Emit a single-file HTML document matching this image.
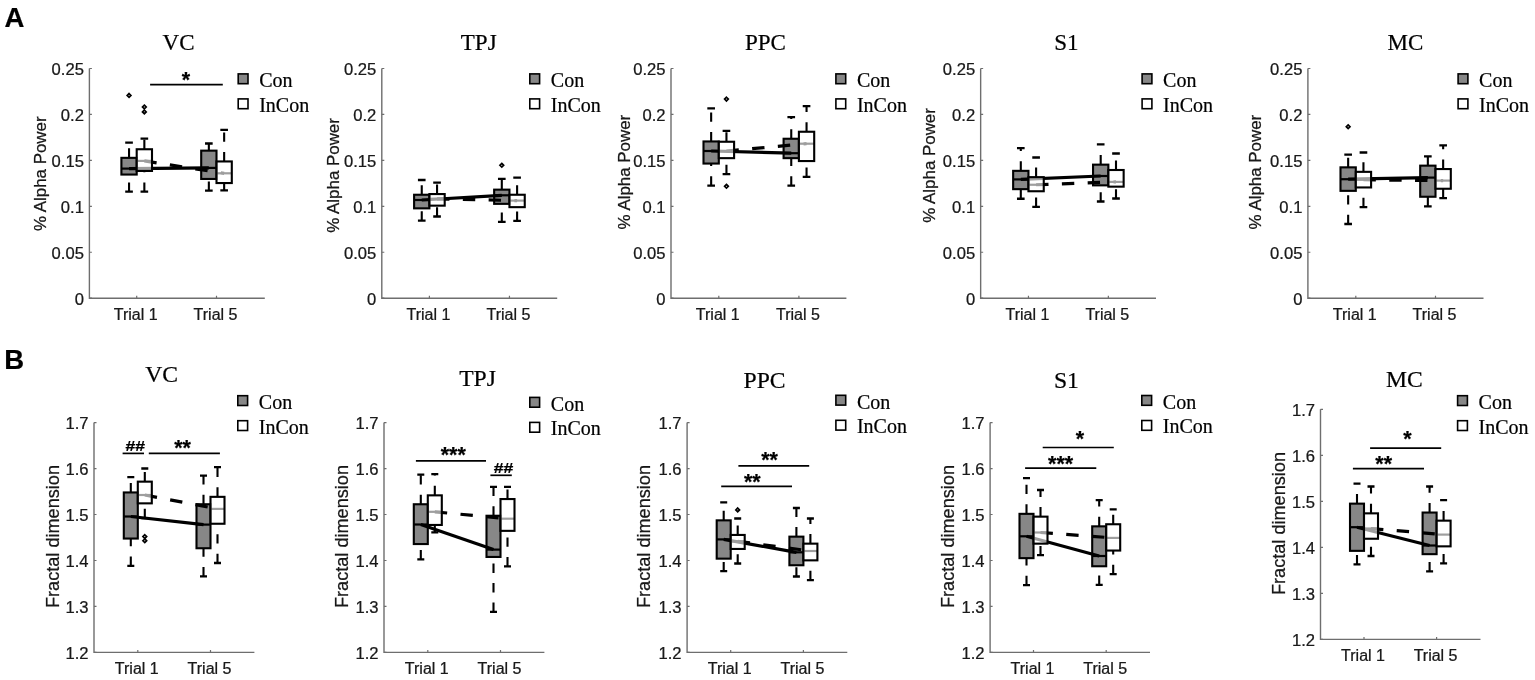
<!DOCTYPE html>
<html><head><meta charset="utf-8"><title>Figure</title>
<style>
html,body{margin:0;padding:0;background:#fff;}
svg{display:block;}
text{fill:#000;stroke:#000;stroke-width:0.22px;}
.tl{font-family:"Liberation Sans",Arial,sans-serif;font-size:16px;fill:#1a1a1a;}
.tk{font-family:"Liberation Sans",Arial,sans-serif;font-size:16.6px;fill:#1a1a1a;}
.yl{font-family:"Liberation Sans",Arial,sans-serif;fill:#1a1a1a;}
.ti{font-family:"Liberation Serif","Times New Roman",serif;font-size:23px;}
.lg{font-family:"Liberation Serif","Times New Roman",serif;font-size:20px;}
.st{font-family:"Liberation Sans",Arial,sans-serif;font-weight:bold;font-size:21.5px;}
.hs{font-family:"Liberation Sans",Arial,sans-serif;font-weight:bold;font-size:15.2px;}
.pl{font-family:"Liberation Sans",Arial,sans-serif;font-weight:bold;font-size:27.5px;}
</style></head>
<body>
<svg width="1535" height="680" viewBox="0 0 1535 680">
<rect width="1535" height="680" fill="#fff"/>
<text x="4.5" y="27.1" class="pl">A</text>
<text x="4.3" y="368.9" class="pl">B</text>
<path d="M89.4 68.5V298.2H264.8" fill="none" stroke="#6e6e6e" stroke-width="1.4"/>
<text x="83.9" y="304.8" class="tk" text-anchor="end">0</text>
<text x="83.9" y="258.86" class="tk" text-anchor="end">0.05</text>
<text x="83.9" y="212.92" class="tk" text-anchor="end">0.1</text>
<text x="83.9" y="166.98" class="tk" text-anchor="end">0.15</text>
<text x="83.9" y="121.04" class="tk" text-anchor="end">0.2</text>
<text x="83.9" y="75.1" class="tk" text-anchor="end">0.25</text>
<path d="M89.4 298.2h2.5 M89.4 252.26h2.5 M89.4 206.32h2.5 M89.4 160.38h2.5 M89.4 114.44h2.5 M89.4 68.5h2.5 M136.7 298.2v-2.5 M216.5 298.2v-2.5" stroke="#6e6e6e" stroke-width="1.2" fill="none"/>
<text x="135.7" y="320" class="tl" text-anchor="middle">Trial 1</text>
<text x="215.5" y="320" class="tl" text-anchor="middle">Trial 5</text>
<text transform="translate(45.6 173.7) rotate(-90)" text-anchor="middle" style="font-size:17px" textLength="114.6" lengthAdjust="spacingAndGlyphs" class="yl">% Alpha Power</text>
<text x="178.5" y="50" class="ti" style="font-size:23px" text-anchor="middle">VC</text>
<rect x="238.2" y="73.9" width="9.8" height="9.8" fill="#878787" stroke="#000" stroke-width="1.6"/>
<rect x="238.2" y="98.9" width="9.8" height="9.8" fill="#fff" stroke="#000" stroke-width="1.6"/>
<text x="259.2" y="87.4" class="lg">Con</text>
<text x="259.2" y="111.8" class="lg">InCon</text>
<path d="M129.05 157.6V142.6M129.05 191.7V174.8" stroke="#000" stroke-width="2.1" stroke-dasharray="9.3 10.2" fill="none"/>
<path d="M125.22 142.6H132.87M125.22 191.7H132.87" stroke="#000" stroke-width="2.3" fill="none"/>
<path d="M129.05 93.55L130.9 95.4L129.05 97.25L127.2 95.4Z" fill="none" stroke="#000" stroke-width="1.7"/>
<path d="M144.35 149V138.7M144.35 191.7V171.2" stroke="#000" stroke-width="2.1" stroke-dasharray="9.3 10.2" fill="none"/>
<path d="M140.53 138.7H148.17M140.53 191.7H148.17" stroke="#000" stroke-width="2.3" fill="none"/>
<path d="M144.35 105.15L146.2 107L144.35 108.85L142.5 107Z" fill="none" stroke="#000" stroke-width="1.7"/>
<path d="M144.35 110.05L146.2 111.9L144.35 113.75L142.5 111.9Z" fill="none" stroke="#000" stroke-width="1.7"/>
<path d="M208.85 150.4V143.5M208.85 190.7V179.2" stroke="#000" stroke-width="2.1" stroke-dasharray="9.3 10.2" fill="none"/>
<path d="M205.03 143.5H212.67M205.03 190.7H212.67" stroke="#000" stroke-width="2.3" fill="none"/>
<path d="M224.15 161.2V129.8M224.15 190.3V183.3" stroke="#000" stroke-width="2.1" stroke-dasharray="9.3 10.2" fill="none"/>
<path d="M220.33 129.8H227.97M220.33 190.3H227.97" stroke="#000" stroke-width="2.3" fill="none"/>
<rect x="121.4" y="157.85" width="15.3" height="16.7" fill="#878787" stroke="#000" stroke-width="2.1"/>
<path d="M121.4 168.6H136.7" stroke="#000" stroke-width="2.2"/>
<rect x="201.2" y="150.65" width="15.3" height="28.3" fill="#878787" stroke="#000" stroke-width="2.1"/>
<path d="M201.2 167.9H216.5" stroke="#000" stroke-width="2.2"/>
<path d="M136.7 160.9H152" stroke="#000" stroke-width="2.2"/>
<path d="M216.5 173.3H231.8" stroke="#000" stroke-width="2.2"/>
<path d="M129.05 168.6L208.85 167.9" stroke="#000" stroke-width="3.2" fill="none"/>
<path d="M144.35 160.9L224.15 173.3" stroke="#000" stroke-width="3.2" stroke-dasharray="12.4 13.4" fill="none"/>
<rect x="136.7" y="149.25" width="15.3" height="21.7" fill="#fff" fill-opacity="0.62" stroke="#000" stroke-width="2.1"/>
<rect x="216.5" y="161.45" width="15.3" height="21.6" fill="#fff" fill-opacity="0.62" stroke="#000" stroke-width="2.1"/>
<path d="M150.1 84.6H222.8" stroke="#000" stroke-width="1.7"/>
<text x="186" y="86.7" class="st" text-anchor="middle">*</text>
<path d="M381.8 68.5V298.2H557.2" fill="none" stroke="#6e6e6e" stroke-width="1.4"/>
<text x="376.3" y="304.8" class="tk" text-anchor="end">0</text>
<text x="376.3" y="258.86" class="tk" text-anchor="end">0.05</text>
<text x="376.3" y="212.92" class="tk" text-anchor="end">0.1</text>
<text x="376.3" y="166.98" class="tk" text-anchor="end">0.15</text>
<text x="376.3" y="121.04" class="tk" text-anchor="end">0.2</text>
<text x="376.3" y="75.1" class="tk" text-anchor="end">0.25</text>
<path d="M381.8 298.2h2.5 M381.8 252.26h2.5 M381.8 206.32h2.5 M381.8 160.38h2.5 M381.8 114.44h2.5 M381.8 68.5h2.5 M429.4 298.2v-2.5 M509.45 298.2v-2.5" stroke="#6e6e6e" stroke-width="1.2" fill="none"/>
<text x="428.4" y="320" class="tl" text-anchor="middle">Trial 1</text>
<text x="508.45" y="320" class="tl" text-anchor="middle">Trial 5</text>
<text transform="translate(338.6 175.4) rotate(-90)" text-anchor="middle" style="font-size:17px" textLength="114.6" lengthAdjust="spacingAndGlyphs" class="yl">% Alpha Power</text>
<text x="478.7" y="50.3" class="ti" style="font-size:23px" text-anchor="middle">TPJ</text>
<rect x="529.8" y="73.9" width="9.8" height="9.8" fill="#878787" stroke="#000" stroke-width="1.6"/>
<rect x="529.8" y="98.9" width="9.8" height="9.8" fill="#fff" stroke="#000" stroke-width="1.6"/>
<text x="550.8" y="87.4" class="lg">Con</text>
<text x="550.8" y="111.8" class="lg">InCon</text>
<path d="M421.75 194.5V180M421.75 220.6V208.6" stroke="#000" stroke-width="2.1" stroke-dasharray="9.3 10.2" fill="none"/>
<path d="M417.93 180H425.57M417.93 220.6H425.57" stroke="#000" stroke-width="2.3" fill="none"/>
<path d="M437.05 193.8V182.7M437.05 216.5V205.9" stroke="#000" stroke-width="2.1" stroke-dasharray="9.3 10.2" fill="none"/>
<path d="M433.22 182.7H440.87M433.22 216.5H440.87" stroke="#000" stroke-width="2.3" fill="none"/>
<path d="M501.8 189.4V178.8M501.8 221.8V204.1" stroke="#000" stroke-width="2.1" stroke-dasharray="9.3 10.2" fill="none"/>
<path d="M497.98 178.8H505.62M497.98 221.8H505.62" stroke="#000" stroke-width="2.3" fill="none"/>
<path d="M501.8 163.45L503.65 165.3L501.8 167.15L499.95 165.3Z" fill="none" stroke="#000" stroke-width="1.7"/>
<path d="M517.1 194.5V177.6M517.1 220.8V207.4" stroke="#000" stroke-width="2.1" stroke-dasharray="9.3 10.2" fill="none"/>
<path d="M513.27 177.6H520.93M513.27 220.8H520.93" stroke="#000" stroke-width="2.3" fill="none"/>
<rect x="414.1" y="194.75" width="15.3" height="13.6" fill="#878787" stroke="#000" stroke-width="2.1"/>
<path d="M414.1 200H429.4" stroke="#000" stroke-width="2.2"/>
<rect x="494.15" y="189.65" width="15.3" height="14.2" fill="#878787" stroke="#000" stroke-width="2.1"/>
<path d="M494.15 195.3H509.45" stroke="#000" stroke-width="2.2"/>
<path d="M429.4 198.8H444.7" stroke="#000" stroke-width="2.2"/>
<path d="M509.45 200.6H524.75" stroke="#000" stroke-width="2.2"/>
<path d="M421.75 200L501.8 195.3" stroke="#000" stroke-width="3.2" fill="none"/>
<path d="M437.05 198.8L517.1 200.6" stroke="#000" stroke-width="3.2" stroke-dasharray="12.4 13.4" fill="none"/>
<rect x="429.4" y="194.05" width="15.3" height="11.6" fill="#fff" fill-opacity="0.62" stroke="#000" stroke-width="2.1"/>
<rect x="509.45" y="194.75" width="15.3" height="12.4" fill="#fff" fill-opacity="0.62" stroke="#000" stroke-width="2.1"/>
<path d="M671 68.5V298.2H846.4" fill="none" stroke="#6e6e6e" stroke-width="1.4"/>
<text x="665.5" y="304.8" class="tk" text-anchor="end">0</text>
<text x="665.5" y="258.86" class="tk" text-anchor="end">0.05</text>
<text x="665.5" y="212.92" class="tk" text-anchor="end">0.1</text>
<text x="665.5" y="166.98" class="tk" text-anchor="end">0.15</text>
<text x="665.5" y="121.04" class="tk" text-anchor="end">0.2</text>
<text x="665.5" y="75.1" class="tk" text-anchor="end">0.25</text>
<path d="M671 298.2h2.5 M671 252.26h2.5 M671 206.32h2.5 M671 160.38h2.5 M671 114.44h2.5 M671 68.5h2.5 M718.8 298.2v-2.5 M798.9 298.2v-2.5" stroke="#6e6e6e" stroke-width="1.2" fill="none"/>
<text x="717.8" y="320" class="tl" text-anchor="middle">Trial 1</text>
<text x="797.9" y="320" class="tl" text-anchor="middle">Trial 5</text>
<text transform="translate(629.8 172.1) rotate(-90)" text-anchor="middle" style="font-size:17px" textLength="114.6" lengthAdjust="spacingAndGlyphs" class="yl">% Alpha Power</text>
<text x="765.5" y="50.3" class="ti" style="font-size:23px" text-anchor="middle">PPC</text>
<rect x="835.9" y="73.9" width="9.8" height="9.8" fill="#878787" stroke="#000" stroke-width="1.6"/>
<rect x="835.9" y="98.9" width="9.8" height="9.8" fill="#fff" stroke="#000" stroke-width="1.6"/>
<text x="856.9" y="87.4" class="lg">Con</text>
<text x="856.9" y="111.8" class="lg">InCon</text>
<path d="M711.15 141.2V108.4M711.15 185.6V163.8" stroke="#000" stroke-width="2.1" stroke-dasharray="9.3 10.2" fill="none"/>
<path d="M707.32 108.4H714.98M707.32 185.6H714.98" stroke="#000" stroke-width="2.3" fill="none"/>
<path d="M726.45 141.5V130.9M726.45 174.1V158.4" stroke="#000" stroke-width="2.1" stroke-dasharray="9.3 10.2" fill="none"/>
<path d="M722.62 130.9H730.27M722.62 174.1H730.27" stroke="#000" stroke-width="2.3" fill="none"/>
<path d="M726.45 97.25L728.3 99.1L726.45 100.95L724.6 99.1Z" fill="none" stroke="#000" stroke-width="1.7"/>
<path d="M726.45 184.45L728.3 186.3L726.45 188.15L724.6 186.3Z" fill="none" stroke="#000" stroke-width="1.7"/>
<path d="M791.25 138.5V117.2M791.25 185.6V158.4" stroke="#000" stroke-width="2.1" stroke-dasharray="9.3 10.2" fill="none"/>
<path d="M787.42 117.2H795.08M787.42 185.6H795.08" stroke="#000" stroke-width="2.3" fill="none"/>
<path d="M806.55 131.5V106.2M806.55 176.8V161.3" stroke="#000" stroke-width="2.1" stroke-dasharray="9.3 10.2" fill="none"/>
<path d="M802.72 106.2H810.38M802.72 176.8H810.38" stroke="#000" stroke-width="2.3" fill="none"/>
<rect x="703.5" y="141.45" width="15.3" height="22.1" fill="#878787" stroke="#000" stroke-width="2.1"/>
<path d="M703.5 151H718.8" stroke="#000" stroke-width="2.2"/>
<rect x="783.6" y="138.75" width="15.3" height="19.4" fill="#878787" stroke="#000" stroke-width="2.1"/>
<path d="M783.6 153.2H798.9" stroke="#000" stroke-width="2.2"/>
<path d="M718.8 151H734.1" stroke="#000" stroke-width="2.2"/>
<path d="M798.9 143.7H814.2" stroke="#000" stroke-width="2.2"/>
<path d="M711.15 151L791.25 153.2" stroke="#000" stroke-width="3.2" fill="none"/>
<path d="M726.45 151L806.55 143.7" stroke="#000" stroke-width="3.2" stroke-dasharray="12.4 13.4" fill="none"/>
<rect x="718.8" y="141.75" width="15.3" height="16.4" fill="#fff" fill-opacity="0.62" stroke="#000" stroke-width="2.1"/>
<rect x="798.9" y="131.75" width="15.3" height="29.3" fill="#fff" fill-opacity="0.62" stroke="#000" stroke-width="2.1"/>
<path d="M980.65 68.5V298.2H1156" fill="none" stroke="#6e6e6e" stroke-width="1.4"/>
<text x="975.15" y="304.8" class="tk" text-anchor="end">0</text>
<text x="975.15" y="258.86" class="tk" text-anchor="end">0.05</text>
<text x="975.15" y="212.92" class="tk" text-anchor="end">0.1</text>
<text x="975.15" y="166.98" class="tk" text-anchor="end">0.15</text>
<text x="975.15" y="121.04" class="tk" text-anchor="end">0.2</text>
<text x="975.15" y="75.1" class="tk" text-anchor="end">0.25</text>
<path d="M980.65 298.2h2.5 M980.65 252.26h2.5 M980.65 206.32h2.5 M980.65 160.38h2.5 M980.65 114.44h2.5 M980.65 68.5h2.5 M1028.45 298.2v-2.5 M1108.35 298.2v-2.5" stroke="#6e6e6e" stroke-width="1.2" fill="none"/>
<text x="1027.45" y="320" class="tl" text-anchor="middle">Trial 1</text>
<text x="1107.35" y="320" class="tl" text-anchor="middle">Trial 5</text>
<text transform="translate(935.1 165.4) rotate(-90)" text-anchor="middle" style="font-size:17px" textLength="114.6" lengthAdjust="spacingAndGlyphs" class="yl">% Alpha Power</text>
<text x="1066.3" y="50.3" class="ti" style="font-size:23px" text-anchor="middle">S1</text>
<rect x="1142.1" y="73.9" width="9.8" height="9.8" fill="#878787" stroke="#000" stroke-width="1.6"/>
<rect x="1142.1" y="98.9" width="9.8" height="9.8" fill="#fff" stroke="#000" stroke-width="1.6"/>
<text x="1163.1" y="87.4" class="lg">Con</text>
<text x="1163.1" y="111.8" class="lg">InCon</text>
<path d="M1020.8 170.6V148.1M1020.8 198.75V189.4" stroke="#000" stroke-width="2.1" stroke-dasharray="9.3 10.2" fill="none"/>
<path d="M1016.98 148.1H1024.62M1016.98 198.75H1024.62" stroke="#000" stroke-width="2.3" fill="none"/>
<path d="M1036.1 176.9V157.5M1036.1 206.9V191.5" stroke="#000" stroke-width="2.1" stroke-dasharray="9.3 10.2" fill="none"/>
<path d="M1032.28 157.5H1039.93M1032.28 206.9H1039.93" stroke="#000" stroke-width="2.3" fill="none"/>
<path d="M1100.7 164.4V144.4M1100.7 201.5V185.6" stroke="#000" stroke-width="2.1" stroke-dasharray="9.3 10.2" fill="none"/>
<path d="M1096.87 144.4H1104.52M1096.87 201.5H1104.52" stroke="#000" stroke-width="2.3" fill="none"/>
<path d="M1116 169.75V153.5M1116 198.5V186.9" stroke="#000" stroke-width="2.1" stroke-dasharray="9.3 10.2" fill="none"/>
<path d="M1112.17 153.5H1119.83M1112.17 198.5H1119.83" stroke="#000" stroke-width="2.3" fill="none"/>
<rect x="1013.15" y="170.85" width="15.3" height="18.3" fill="#878787" stroke="#000" stroke-width="2.1"/>
<path d="M1013.15 179.4H1028.45" stroke="#000" stroke-width="2.2"/>
<rect x="1093.05" y="164.65" width="15.3" height="20.7" fill="#878787" stroke="#000" stroke-width="2.1"/>
<path d="M1093.05 176H1108.35" stroke="#000" stroke-width="2.2"/>
<path d="M1028.45 184.75H1043.75" stroke="#000" stroke-width="2.2"/>
<path d="M1108.35 181.9H1123.65" stroke="#000" stroke-width="2.2"/>
<path d="M1020.8 179.4L1100.7 176" stroke="#000" stroke-width="3.2" fill="none"/>
<path d="M1036.1 184.75L1116 181.9" stroke="#000" stroke-width="3.2" stroke-dasharray="12.4 13.4" fill="none"/>
<rect x="1028.45" y="177.15" width="15.3" height="14.1" fill="#fff" fill-opacity="0.62" stroke="#000" stroke-width="2.1"/>
<rect x="1108.35" y="170" width="15.3" height="16.65" fill="#fff" fill-opacity="0.62" stroke="#000" stroke-width="2.1"/>
<path d="M1307.9 68.5V298.2H1483.5" fill="none" stroke="#6e6e6e" stroke-width="1.4"/>
<text x="1302.4" y="304.8" class="tk" text-anchor="end">0</text>
<text x="1302.4" y="258.86" class="tk" text-anchor="end">0.05</text>
<text x="1302.4" y="212.92" class="tk" text-anchor="end">0.1</text>
<text x="1302.4" y="166.98" class="tk" text-anchor="end">0.15</text>
<text x="1302.4" y="121.04" class="tk" text-anchor="end">0.2</text>
<text x="1302.4" y="75.1" class="tk" text-anchor="end">0.25</text>
<path d="M1307.9 298.2h2.5 M1307.9 252.26h2.5 M1307.9 206.32h2.5 M1307.9 160.38h2.5 M1307.9 114.44h2.5 M1307.9 68.5h2.5 M1355.8 298.2v-2.5 M1435.5 298.2v-2.5" stroke="#6e6e6e" stroke-width="1.2" fill="none"/>
<text x="1354.8" y="320" class="tl" text-anchor="middle">Trial 1</text>
<text x="1434.5" y="320" class="tl" text-anchor="middle">Trial 5</text>
<text transform="translate(1260.6 172.1) rotate(-90)" text-anchor="middle" style="font-size:17px" textLength="114.6" lengthAdjust="spacingAndGlyphs" class="yl">% Alpha Power</text>
<text x="1405.4" y="50.3" class="ti" style="font-size:23px" text-anchor="middle">MC</text>
<rect x="1458.1" y="73.9" width="9.8" height="9.8" fill="#878787" stroke="#000" stroke-width="1.6"/>
<rect x="1458.1" y="98.9" width="9.8" height="9.8" fill="#fff" stroke="#000" stroke-width="1.6"/>
<text x="1479.1" y="87.4" class="lg">Con</text>
<text x="1479.1" y="111.8" class="lg">InCon</text>
<path d="M1348.15 167.1V154.7M1348.15 224V191.1" stroke="#000" stroke-width="2.1" stroke-dasharray="9.3 10.2" fill="none"/>
<path d="M1344.32 154.7H1351.97M1344.32 224H1351.97" stroke="#000" stroke-width="2.3" fill="none"/>
<path d="M1348.15 124.95L1350 126.8L1348.15 128.65L1346.3 126.8Z" fill="none" stroke="#000" stroke-width="1.7"/>
<path d="M1363.45 171.6V152.5M1363.45 207.1V187.7" stroke="#000" stroke-width="2.1" stroke-dasharray="9.3 10.2" fill="none"/>
<path d="M1359.62 152.5H1367.28M1359.62 207.1H1367.28" stroke="#000" stroke-width="2.3" fill="none"/>
<path d="M1427.85 165.4V156.4M1427.85 206.3V197" stroke="#000" stroke-width="2.1" stroke-dasharray="9.3 10.2" fill="none"/>
<path d="M1424.02 156.4H1431.67M1424.02 206.3H1431.67" stroke="#000" stroke-width="2.3" fill="none"/>
<path d="M1443.15 168.8V145.4M1443.15 198.2V189" stroke="#000" stroke-width="2.1" stroke-dasharray="9.3 10.2" fill="none"/>
<path d="M1439.33 145.4H1446.98M1439.33 198.2H1446.98" stroke="#000" stroke-width="2.3" fill="none"/>
<rect x="1340.5" y="167.35" width="15.3" height="23.5" fill="#878787" stroke="#000" stroke-width="2.1"/>
<path d="M1340.5 179.2H1355.8" stroke="#000" stroke-width="2.2"/>
<rect x="1420.2" y="165.65" width="15.3" height="31.1" fill="#878787" stroke="#000" stroke-width="2.1"/>
<path d="M1420.2 177.6H1435.5" stroke="#000" stroke-width="2.2"/>
<path d="M1355.8 179.75H1371.1" stroke="#000" stroke-width="2.2"/>
<path d="M1435.5 180.6H1450.8" stroke="#000" stroke-width="2.2"/>
<path d="M1348.15 179.2L1427.85 177.6" stroke="#000" stroke-width="3.2" fill="none"/>
<path d="M1363.45 179.75L1443.15 180.6" stroke="#000" stroke-width="3.2" stroke-dasharray="12.4 13.4" fill="none"/>
<rect x="1355.8" y="171.85" width="15.3" height="15.6" fill="#fff" fill-opacity="0.62" stroke="#000" stroke-width="2.1"/>
<rect x="1435.5" y="169.05" width="15.3" height="19.7" fill="#fff" fill-opacity="0.62" stroke="#000" stroke-width="2.1"/>
<path d="M94 422.6V652.4H254.4" fill="none" stroke="#6e6e6e" stroke-width="1.4"/>
<text x="88.5" y="659" class="tk" text-anchor="end">1.2</text>
<text x="88.5" y="613.04" class="tk" text-anchor="end">1.3</text>
<text x="88.5" y="567.08" class="tk" text-anchor="end">1.4</text>
<text x="88.5" y="521.12" class="tk" text-anchor="end">1.5</text>
<text x="88.5" y="475.16" class="tk" text-anchor="end">1.6</text>
<text x="88.5" y="429.2" class="tk" text-anchor="end">1.7</text>
<path d="M94 652.4h2.5 M94 606.44h2.5 M94 560.48h2.5 M94 514.52h2.5 M94 468.56h2.5 M94 422.6h2.5 M137.8 652.4v-2.5 M210.5 652.4v-2.5" stroke="#6e6e6e" stroke-width="1.2" fill="none"/>
<text x="136.8" y="674.2" class="tl" text-anchor="middle">Trial 1</text>
<text x="209.5" y="674.2" class="tl" text-anchor="middle">Trial 5</text>
<text transform="translate(59.2 536.5) rotate(-90)" text-anchor="middle" style="font-size:18px" textLength="143" lengthAdjust="spacingAndGlyphs" class="yl">Fractal dimension</text>
<text x="161.65" y="382.4" class="ti" style="font-size:23.6px" text-anchor="middle">VC</text>
<rect x="237.8" y="395.7" width="9.8" height="9.8" fill="#878787" stroke="#000" stroke-width="1.6"/>
<rect x="237.8" y="420.7" width="9.8" height="9.8" fill="#fff" stroke="#000" stroke-width="1.6"/>
<text x="258.8" y="409.2" class="lg">Con</text>
<text x="258.8" y="433.6" class="lg">InCon</text>
<path d="M130.8 492.2V477.2M130.8 565.8V538.8" stroke="#000" stroke-width="2.1" stroke-dasharray="9.3 10.2" fill="none"/>
<path d="M127.3 477.2H134.3M127.3 565.8H134.3" stroke="#000" stroke-width="2.3" fill="none"/>
<path d="M144.8 481.4V468.5M144.8 518.1V503.6" stroke="#000" stroke-width="2.1" stroke-dasharray="9.3 10.2" fill="none"/>
<path d="M141.3 468.5H148.3M141.3 518.1H148.3" stroke="#000" stroke-width="2.3" fill="none"/>
<path d="M144.8 534.75L146.65 536.6L144.8 538.45L142.95 536.6Z" fill="none" stroke="#000" stroke-width="1.7"/>
<path d="M144.8 538.95L146.65 540.8L144.8 542.65L142.95 540.8Z" fill="none" stroke="#000" stroke-width="1.7"/>
<path d="M203.5 504V475.6M203.5 576.3V548.5" stroke="#000" stroke-width="2.1" stroke-dasharray="9.3 10.2" fill="none"/>
<path d="M200 475.6H207M200 576.3H207" stroke="#000" stroke-width="2.3" fill="none"/>
<path d="M217.5 496.6V467.2M217.5 563V524" stroke="#000" stroke-width="2.1" stroke-dasharray="9.3 10.2" fill="none"/>
<path d="M214 467.2H221M214 563H221" stroke="#000" stroke-width="2.3" fill="none"/>
<rect x="123.8" y="492.45" width="14" height="46.1" fill="#878787" stroke="#000" stroke-width="2.1"/>
<path d="M123.8 516.5H137.8" stroke="#000" stroke-width="2.2"/>
<rect x="196.5" y="504.25" width="14" height="44" fill="#878787" stroke="#000" stroke-width="2.1"/>
<path d="M196.5 524.6H210.5" stroke="#000" stroke-width="2.2"/>
<path d="M137.8 495H151.8" stroke="#000" stroke-width="2.2"/>
<path d="M210.5 508.9H224.5" stroke="#000" stroke-width="2.2"/>
<path d="M130.8 516.5L203.5 524.6" stroke="#000" stroke-width="3.2" fill="none"/>
<path d="M144.8 495L217.5 508.9" stroke="#000" stroke-width="3.2" stroke-dasharray="12.4 13.4" fill="none"/>
<rect x="137.8" y="481.65" width="14" height="21.7" fill="#fff" fill-opacity="0.62" stroke="#000" stroke-width="2.1"/>
<rect x="210.5" y="496.85" width="14" height="26.9" fill="#fff" fill-opacity="0.62" stroke="#000" stroke-width="2.1"/>
<path d="M122.6 453.4H144" stroke="#000" stroke-width="1.7"/>
<text x="135.3" y="450.7" class="hs" text-anchor="middle" textLength="19.6" lengthAdjust="spacingAndGlyphs">##</text>
<path d="M148.8 453.4H219.9" stroke="#000" stroke-width="1.7"/>
<text x="182.6" y="454.6" class="st" text-anchor="middle">**</text>
<path d="M384 422.6V652.4H544.4" fill="none" stroke="#6e6e6e" stroke-width="1.4"/>
<text x="378.5" y="659" class="tk" text-anchor="end">1.2</text>
<text x="378.5" y="613.04" class="tk" text-anchor="end">1.3</text>
<text x="378.5" y="567.08" class="tk" text-anchor="end">1.4</text>
<text x="378.5" y="521.12" class="tk" text-anchor="end">1.5</text>
<text x="378.5" y="475.16" class="tk" text-anchor="end">1.6</text>
<text x="378.5" y="429.2" class="tk" text-anchor="end">1.7</text>
<path d="M384 652.4h2.5 M384 606.44h2.5 M384 560.48h2.5 M384 514.52h2.5 M384 468.56h2.5 M384 422.6h2.5 M427.8 652.4v-2.5 M500.5 652.4v-2.5" stroke="#6e6e6e" stroke-width="1.2" fill="none"/>
<text x="426.8" y="674.2" class="tl" text-anchor="middle">Trial 1</text>
<text x="499.5" y="674.2" class="tl" text-anchor="middle">Trial 5</text>
<text transform="translate(348.4 536.5) rotate(-90)" text-anchor="middle" style="font-size:18px" textLength="143" lengthAdjust="spacingAndGlyphs" class="yl">Fractal dimension</text>
<text x="477.55" y="385.7" class="ti" style="font-size:23.6px" text-anchor="middle">TPJ</text>
<rect x="529.8" y="397.4" width="9.8" height="9.8" fill="#878787" stroke="#000" stroke-width="1.6"/>
<rect x="529.8" y="422.4" width="9.8" height="9.8" fill="#fff" stroke="#000" stroke-width="1.6"/>
<text x="550.8" y="410.9" class="lg">Con</text>
<text x="550.8" y="435.3" class="lg">InCon</text>
<path d="M420.8 504V474.6M420.8 559.3V544.3" stroke="#000" stroke-width="2.1" stroke-dasharray="9.3 10.2" fill="none"/>
<path d="M417.3 474.6H424.3M417.3 559.3H424.3" stroke="#000" stroke-width="2.3" fill="none"/>
<path d="M434.8 495.1V474.1M434.8 532.3V525.2" stroke="#000" stroke-width="2.1" stroke-dasharray="9.3 10.2" fill="none"/>
<path d="M431.3 474.1H438.3M431.3 532.3H438.3" stroke="#000" stroke-width="2.3" fill="none"/>
<path d="M493.5 515.5V486.8M493.5 611.9V557.2" stroke="#000" stroke-width="2.1" stroke-dasharray="9.3 10.2" fill="none"/>
<path d="M490 486.8H497M490 611.9H497" stroke="#000" stroke-width="2.3" fill="none"/>
<path d="M507.5 498.8V486.8M507.5 566.3V531.1" stroke="#000" stroke-width="2.1" stroke-dasharray="9.3 10.2" fill="none"/>
<path d="M504 486.8H511M504 566.3H511" stroke="#000" stroke-width="2.3" fill="none"/>
<rect x="413.8" y="504.25" width="14" height="39.8" fill="#878787" stroke="#000" stroke-width="2.1"/>
<path d="M413.8 524.5H427.8" stroke="#000" stroke-width="2.2"/>
<rect x="486.5" y="515.75" width="14" height="41.2" fill="#878787" stroke="#000" stroke-width="2.1"/>
<path d="M486.5 549.6H500.5" stroke="#000" stroke-width="2.2"/>
<path d="M427.8 511.8H441.8" stroke="#000" stroke-width="2.2"/>
<path d="M500.5 518.7H514.5" stroke="#000" stroke-width="2.2"/>
<path d="M420.8 524.5L493.5 549.6" stroke="#000" stroke-width="3.2" fill="none"/>
<path d="M434.8 511.8L507.5 518.7" stroke="#000" stroke-width="3.2" stroke-dasharray="12.4 13.4" fill="none"/>
<rect x="427.8" y="495.35" width="14" height="29.6" fill="#fff" fill-opacity="0.62" stroke="#000" stroke-width="2.1"/>
<rect x="500.5" y="499.05" width="14" height="31.8" fill="#fff" fill-opacity="0.62" stroke="#000" stroke-width="2.1"/>
<path d="M415.9 460.9H486" stroke="#000" stroke-width="1.7"/>
<text x="453.3" y="461.7" class="st" text-anchor="middle">***</text>
<path d="M490.4 475.3H511.8" stroke="#000" stroke-width="1.7"/>
<text x="503.5" y="472.6" class="hs" text-anchor="middle" textLength="19.6" lengthAdjust="spacingAndGlyphs">##</text>
<path d="M687.1 422.6V652.4H847.3" fill="none" stroke="#6e6e6e" stroke-width="1.4"/>
<text x="681.6" y="659" class="tk" text-anchor="end">1.2</text>
<text x="681.6" y="613.04" class="tk" text-anchor="end">1.3</text>
<text x="681.6" y="567.08" class="tk" text-anchor="end">1.4</text>
<text x="681.6" y="521.12" class="tk" text-anchor="end">1.5</text>
<text x="681.6" y="475.16" class="tk" text-anchor="end">1.6</text>
<text x="681.6" y="429.2" class="tk" text-anchor="end">1.7</text>
<path d="M687.1 652.4h2.5 M687.1 606.44h2.5 M687.1 560.48h2.5 M687.1 514.52h2.5 M687.1 468.56h2.5 M687.1 422.6h2.5 M730.7 652.4v-2.5 M803.4 652.4v-2.5" stroke="#6e6e6e" stroke-width="1.2" fill="none"/>
<text x="729.7" y="674.2" class="tl" text-anchor="middle">Trial 1</text>
<text x="802.4" y="674.2" class="tl" text-anchor="middle">Trial 5</text>
<text transform="translate(650.4 536.5) rotate(-90)" text-anchor="middle" style="font-size:18px" textLength="143" lengthAdjust="spacingAndGlyphs" class="yl">Fractal dimension</text>
<text x="764.6" y="388.2" class="ti" style="font-size:23.6px" text-anchor="middle">PPC</text>
<rect x="835.9" y="395.3" width="9.8" height="9.8" fill="#878787" stroke="#000" stroke-width="1.6"/>
<rect x="835.9" y="420.3" width="9.8" height="9.8" fill="#fff" stroke="#000" stroke-width="1.6"/>
<text x="856.9" y="408.8" class="lg">Con</text>
<text x="856.9" y="433.2" class="lg">InCon</text>
<path d="M723.7 520.1V502.4M723.7 571.2V558.9" stroke="#000" stroke-width="2.1" stroke-dasharray="9.3 10.2" fill="none"/>
<path d="M720.2 502.4H727.2M720.2 571.2H727.2" stroke="#000" stroke-width="2.3" fill="none"/>
<path d="M737.7 534.7V518.5M737.7 563.5V549.2" stroke="#000" stroke-width="2.1" stroke-dasharray="9.3 10.2" fill="none"/>
<path d="M734.2 518.5H741.2M734.2 563.5H741.2" stroke="#000" stroke-width="2.3" fill="none"/>
<path d="M737.7 508.05L739.55 509.9L737.7 511.75L735.85 509.9Z" fill="none" stroke="#000" stroke-width="1.7"/>
<path d="M796.4 536.4V508M796.4 576.5V565.5" stroke="#000" stroke-width="2.1" stroke-dasharray="9.3 10.2" fill="none"/>
<path d="M792.9 508H799.9M792.9 576.5H799.9" stroke="#000" stroke-width="2.3" fill="none"/>
<path d="M810.4 543.4V518.5M810.4 580.1V560.6" stroke="#000" stroke-width="2.1" stroke-dasharray="9.3 10.2" fill="none"/>
<path d="M806.9 518.5H813.9M806.9 580.1H813.9" stroke="#000" stroke-width="2.3" fill="none"/>
<rect x="716.7" y="520.35" width="14" height="38.3" fill="#878787" stroke="#000" stroke-width="2.1"/>
<path d="M716.7 539.4H730.7" stroke="#000" stroke-width="2.2"/>
<rect x="789.4" y="536.65" width="14" height="28.6" fill="#878787" stroke="#000" stroke-width="2.1"/>
<path d="M789.4 552.3H803.4" stroke="#000" stroke-width="2.2"/>
<path d="M730.7 541.3H744.7" stroke="#000" stroke-width="2.2"/>
<path d="M803.4 551H817.4" stroke="#000" stroke-width="2.2"/>
<path d="M723.7 539.4L796.4 552.3" stroke="#000" stroke-width="3.2" fill="none"/>
<path d="M737.7 541.3L810.4 551" stroke="#000" stroke-width="3.2" stroke-dasharray="12.4 13.4" fill="none"/>
<rect x="730.7" y="534.95" width="14" height="14" fill="#fff" fill-opacity="0.62" stroke="#000" stroke-width="2.1"/>
<rect x="803.4" y="543.65" width="14" height="16.7" fill="#fff" fill-opacity="0.62" stroke="#000" stroke-width="2.1"/>
<path d="M738.4 465.9H809.2" stroke="#000" stroke-width="1.7"/>
<text x="769.5" y="466.7" class="st" text-anchor="middle">**</text>
<path d="M721.2 486.3H792" stroke="#000" stroke-width="1.7"/>
<text x="752.25" y="488.5" class="st" text-anchor="middle">**</text>
<path d="M990.1 422.6V652.4H1150" fill="none" stroke="#6e6e6e" stroke-width="1.4"/>
<text x="984.6" y="659" class="tk" text-anchor="end">1.2</text>
<text x="984.6" y="613.04" class="tk" text-anchor="end">1.3</text>
<text x="984.6" y="567.08" class="tk" text-anchor="end">1.4</text>
<text x="984.6" y="521.12" class="tk" text-anchor="end">1.5</text>
<text x="984.6" y="475.16" class="tk" text-anchor="end">1.6</text>
<text x="984.6" y="429.2" class="tk" text-anchor="end">1.7</text>
<path d="M990.1 652.4h2.5 M990.1 606.44h2.5 M990.1 560.48h2.5 M990.1 514.52h2.5 M990.1 468.56h2.5 M990.1 422.6h2.5 M1033.5 652.4v-2.5 M1106.2 652.4v-2.5" stroke="#6e6e6e" stroke-width="1.2" fill="none"/>
<text x="1032.5" y="674.2" class="tl" text-anchor="middle">Trial 1</text>
<text x="1105.2" y="674.2" class="tl" text-anchor="middle">Trial 5</text>
<text transform="translate(954.15 536.5) rotate(-90)" text-anchor="middle" style="font-size:18px" textLength="143" lengthAdjust="spacingAndGlyphs" class="yl">Fractal dimension</text>
<text x="1066.4" y="387.8" class="ti" style="font-size:23.6px" text-anchor="middle">S1</text>
<rect x="1141.8" y="395.5" width="9.8" height="9.8" fill="#878787" stroke="#000" stroke-width="1.6"/>
<rect x="1141.8" y="420.5" width="9.8" height="9.8" fill="#fff" stroke="#000" stroke-width="1.6"/>
<text x="1162.8" y="409" class="lg">Con</text>
<text x="1162.8" y="433.4" class="lg">InCon</text>
<path d="M1026.5 513.6V478.2M1026.5 585.1V558.4" stroke="#000" stroke-width="2.1" stroke-dasharray="9.3 10.2" fill="none"/>
<path d="M1023 478.2H1030M1023 585.1H1030" stroke="#000" stroke-width="2.3" fill="none"/>
<path d="M1040.5 516.4V490M1040.5 555.2V543.9" stroke="#000" stroke-width="2.1" stroke-dasharray="9.3 10.2" fill="none"/>
<path d="M1037 490H1044M1037 555.2H1044" stroke="#000" stroke-width="2.3" fill="none"/>
<path d="M1099.2 526.1V500.2M1099.2 584.8V566.5" stroke="#000" stroke-width="2.1" stroke-dasharray="9.3 10.2" fill="none"/>
<path d="M1095.7 500.2H1102.7M1095.7 584.8H1102.7" stroke="#000" stroke-width="2.3" fill="none"/>
<path d="M1113.2 524V509.4M1113.2 574.1V550.8" stroke="#000" stroke-width="2.1" stroke-dasharray="9.3 10.2" fill="none"/>
<path d="M1109.7 509.4H1116.7M1109.7 574.1H1116.7" stroke="#000" stroke-width="2.3" fill="none"/>
<rect x="1019.5" y="513.85" width="14" height="44.3" fill="#878787" stroke="#000" stroke-width="2.1"/>
<path d="M1019.5 536.3H1033.5" stroke="#000" stroke-width="2.2"/>
<rect x="1092.2" y="526.35" width="14" height="39.9" fill="#878787" stroke="#000" stroke-width="2.1"/>
<path d="M1092.2 556H1106.2" stroke="#000" stroke-width="2.2"/>
<path d="M1033.5 532.5H1047.5" stroke="#000" stroke-width="2.2"/>
<path d="M1106.2 537.9H1120.2" stroke="#000" stroke-width="2.2"/>
<path d="M1026.5 536.3L1099.2 556" stroke="#000" stroke-width="3.2" fill="none"/>
<path d="M1040.5 532.5L1113.2 537.9" stroke="#000" stroke-width="3.2" stroke-dasharray="12.4 13.4" fill="none"/>
<rect x="1033.5" y="516.65" width="14" height="27" fill="#fff" fill-opacity="0.62" stroke="#000" stroke-width="2.1"/>
<rect x="1106.2" y="524.25" width="14" height="26.3" fill="#fff" fill-opacity="0.62" stroke="#000" stroke-width="2.1"/>
<path d="M1042.7 447.5H1113.8" stroke="#000" stroke-width="1.7"/>
<text x="1080" y="446.4" class="st" text-anchor="middle">*</text>
<path d="M1025.1 468.1H1096.3" stroke="#000" stroke-width="1.7"/>
<text x="1060.6" y="470.5" class="st" text-anchor="middle">***</text>
<path d="M1320.5 409.3V639.4H1480.5" fill="none" stroke="#6e6e6e" stroke-width="1.4"/>
<text x="1315" y="646" class="tk" text-anchor="end">1.2</text>
<text x="1315" y="599.98" class="tk" text-anchor="end">1.3</text>
<text x="1315" y="553.96" class="tk" text-anchor="end">1.4</text>
<text x="1315" y="507.94" class="tk" text-anchor="end">1.5</text>
<text x="1315" y="461.92" class="tk" text-anchor="end">1.6</text>
<text x="1315" y="415.9" class="tk" text-anchor="end">1.7</text>
<path d="M1320.5 639.4h2.5 M1320.5 593.38h2.5 M1320.5 547.36h2.5 M1320.5 501.34h2.5 M1320.5 455.32h2.5 M1320.5 409.3h2.5 M1364 639.4v-2.5 M1436.6 639.4v-2.5" stroke="#6e6e6e" stroke-width="1.2" fill="none"/>
<text x="1363" y="661.2" class="tl" text-anchor="middle">Trial 1</text>
<text x="1435.6" y="661.2" class="tl" text-anchor="middle">Trial 5</text>
<text transform="translate(1284.9 523.5) rotate(-90)" text-anchor="middle" style="font-size:18px" textLength="143" lengthAdjust="spacingAndGlyphs" class="yl">Fractal dimension</text>
<text x="1404.45" y="386.7" class="ti" style="font-size:23.6px" text-anchor="middle">MC</text>
<rect x="1457.6" y="395.7" width="9.8" height="9.8" fill="#878787" stroke="#000" stroke-width="1.6"/>
<rect x="1457.6" y="420.7" width="9.8" height="9.8" fill="#fff" stroke="#000" stroke-width="1.6"/>
<text x="1478.6" y="409.2" class="lg">Con</text>
<text x="1478.6" y="433.6" class="lg">InCon</text>
<path d="M1357 503.4V483.6M1357 564.4V551.1" stroke="#000" stroke-width="2.1" stroke-dasharray="9.3 10.2" fill="none"/>
<path d="M1353.5 483.6H1360.5M1353.5 564.4H1360.5" stroke="#000" stroke-width="2.3" fill="none"/>
<path d="M1371 513.1V486.5M1371 556V539" stroke="#000" stroke-width="2.1" stroke-dasharray="9.3 10.2" fill="none"/>
<path d="M1367.5 486.5H1374.5M1367.5 556H1374.5" stroke="#000" stroke-width="2.3" fill="none"/>
<path d="M1429.6 512.3V486.5M1429.6 571.4V554.4" stroke="#000" stroke-width="2.1" stroke-dasharray="9.3 10.2" fill="none"/>
<path d="M1426.1 486.5H1433.1M1426.1 571.4H1433.1" stroke="#000" stroke-width="2.3" fill="none"/>
<path d="M1443.6 520.4V500.2M1443.6 563.3V546.6" stroke="#000" stroke-width="2.1" stroke-dasharray="9.3 10.2" fill="none"/>
<path d="M1440.1 500.2H1447.1M1440.1 563.3H1447.1" stroke="#000" stroke-width="2.3" fill="none"/>
<rect x="1350" y="503.65" width="14" height="47.2" fill="#878787" stroke="#000" stroke-width="2.1"/>
<path d="M1350 527.2H1364" stroke="#000" stroke-width="2.2"/>
<rect x="1422.6" y="512.55" width="14" height="41.6" fill="#878787" stroke="#000" stroke-width="2.1"/>
<path d="M1422.6 545.5H1436.6" stroke="#000" stroke-width="2.2"/>
<path d="M1364 528.5H1378" stroke="#000" stroke-width="2.2"/>
<path d="M1436.6 534.6H1450.6" stroke="#000" stroke-width="2.2"/>
<path d="M1357 527.2L1429.6 545.5" stroke="#000" stroke-width="3.2" fill="none"/>
<path d="M1371 528.5L1443.6 534.6" stroke="#000" stroke-width="3.2" stroke-dasharray="12.4 13.4" fill="none"/>
<rect x="1364" y="513.35" width="14" height="25.4" fill="#fff" fill-opacity="0.62" stroke="#000" stroke-width="2.1"/>
<rect x="1436.6" y="520.65" width="14" height="25.7" fill="#fff" fill-opacity="0.62" stroke="#000" stroke-width="2.1"/>
<path d="M1370.1 448.1H1441.2" stroke="#000" stroke-width="1.7"/>
<text x="1407.55" y="446.4" class="st" text-anchor="middle">*</text>
<path d="M1352.9 468.7H1424" stroke="#000" stroke-width="1.7"/>
<text x="1383.65" y="470.5" class="st" text-anchor="middle">**</text>
</svg>
</body></html>
